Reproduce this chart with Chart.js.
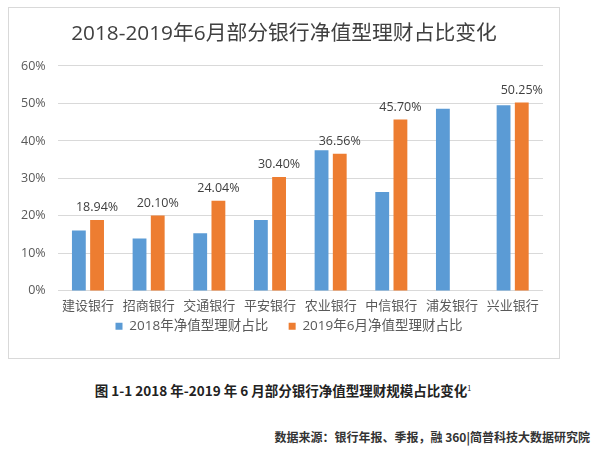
<!DOCTYPE html>
<html><head><meta charset="utf-8">
<script src="https://cdn.jsdelivr.net/npm/chart.js@4/dist/chart.umd.min.js"></script>
<style>
html,body{margin:0;padding:0;background:#fff;width:600px;height:453px;overflow:hidden;font-family:"Noto Sans CJK SC",sans-serif;}
#box{position:absolute;left:8px;top:7px;width:552px;height:352px;border:1px solid #d9d9d9;box-sizing:border-box;}
#c{position:absolute;left:0;top:0;}
#cap{position:absolute;left:0;width:566px;top:380px;text-align:center;font-size:13.5px;font-weight:bold;color:#222;}
#cap sup{font-size:7px;font-weight:normal;}
#src{position:absolute;right:10px;top:428px;font-size:12px;font-weight:bold;color:#333;}
</style></head>
<body>
<div id="box"><canvas id="c" width="550" height="350"></canvas></div>
<div id="cap">图 1-1 2018 年-2019 年 6 月部分银行净值型理财规模占比变化<sup>1</sup></div>
<div id="src">数据来源：银行年报、季报，融 360|简普科技大数据研究院</div>
<script>
const categories = ["建设银行","招商银行","交通银行","平安银行","农业银行","中信银行","浦发银行","兴业银行"];
const series2018 = [16.1, 14.0, 15.4, 18.9, 37.5, 26.4, 48.6, 49.5];
const series2019 = [18.94, 20.10, 24.04, 30.40, 36.56, 45.70, null, 50.25];
const seriesNames = ["2018年净值型理财占比","2019年6月净值型理财占比"];
const yTicks = [0,10,20,30,40,50,60];

const labelPlugin = {
  id:'valLabels',
  afterLayout(chart){
    const lg = chart.legend;
    lg.left += 13; lg.right += 13;
    lg.top -= 9; lg.bottom -= 9;
    const t = chart.titleBlock;
    if (t) { t.left += 8; t.right += 8; }
  },
  afterDatasetsDraw(chart){
    const ctx = chart.ctx;
    const meta = chart.getDatasetMeta(1);
    ctx.save();
    ctx.font = '12.5px "Open Sans", "Noto Sans CJK SC", sans-serif';
    ctx.fillStyle = '#404040';
    ctx.textAlign = 'center';
    ctx.textBaseline = 'alphabetic';
    meta.data.forEach((bar,i)=>{
      const v = series2019[i];
      if (v === null) return;
      ctx.fillText(v.toFixed(2)+'%', bar.x, bar.y - 9);
    });
    ctx.restore();
  }
};

new Chart(document.getElementById('c'), {
  type:'bar',
  data:{
    labels: categories,
    datasets:[
      {label: seriesNames[0], data: series2018, backgroundColor:'#5B9BD5', categoryPercentage:0.6, barPercentage:0.76},
      {label: seriesNames[1], data: series2019, backgroundColor:'#ED7D31', categoryPercentage:0.6, barPercentage:0.76}
    ]
  },
  options:{
    responsive:false,
    animation:false,
    layout:{padding:{left:0,right:16,top:4,bottom:6}},
    plugins:{
      title:{display:true, text:'2018-2019年6月部分银行净值型理财占比变化', color:'#404040',
        font:{size:20.8, family:'"Open Sans", "Noto Sans CJK SC", sans-serif', weight:'normal'}, padding:{top:10,bottom:19}},
      legend:{position:'bottom', labels:{boxWidth:7, boxHeight:7, color:'#595959', padding:10,
        font:{size:13.5, family:'"Open Sans", "Noto Sans CJK SC", sans-serif'},
        generateLabels(chart){
          const items = Chart.defaults.plugins.legend.labels.generateLabels(chart);
          items[0].text = items[0].text + '   ';
          return items;
        }}},
      tooltip:{enabled:false}
    },
    scales:{
      x:{grid:{display:false, drawTicks:false}, border:{display:false},
        ticks:{color:'#595959', font:{size:13, family:'"Noto Sans CJK SC", sans-serif'}, padding:6}},
      y:{min:0, max:60, afterBuildTicks(axis){axis.ticks = yTicks.map(v=>({value:v}));},
        grid:{color:'#d9d9d9', drawTicks:false}, border:{display:false},
        ticks:{color:'#595959', padding:12, font:{size:12.5, family:'"Open Sans", "Noto Sans CJK SC", sans-serif'}, callback:v=>v+'%'}}
    }
  },
  plugins:[labelPlugin]
});
</script>
</body></html>
